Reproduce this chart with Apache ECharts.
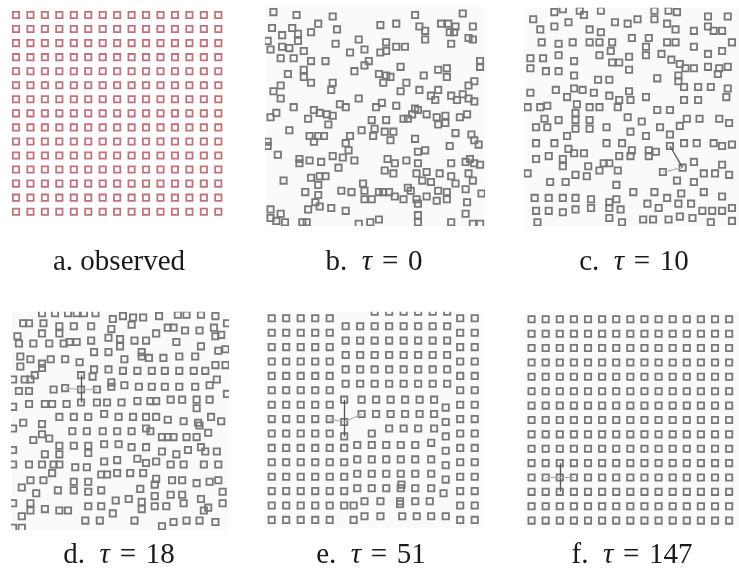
<!DOCTYPE html>
<html>
<head>
<meta charset="utf-8">
<script src="https://cdn.jsdelivr.net/npm/echarts@6/dist/echarts.min.js"></script>
<style>
  html, body { margin: 0; padding: 0; background: #ffffff; }
  #chart { width: 739px; height: 575px; }
</style>
</head>
<body>
<div id="chart"></div>
<script>
// Lattice indices (15 x 15 sites), in lattice units
const latticeIndex = [0, 1, 2, 3, 4, 5, 6, 7, 8, 9, 10, 11, 12, 13, 14];

// Sample positions at tau = 0 (lattice units, y downward)
const tau0Points = [
  [0.1,-0.2],[1.7,0],[4.2,0.1],[9.9,0],[13.2,-0.1],
  [3.2,0.6],[0,0.9],[1.4,0.9],[7.5,0.7],[8.6,0.6],[10.2,0.8],[11.7,0.6],[12.2,0.6],[12.7,0.8],[13.9,0.8],[4.5,1.0],
  [0.7,1.4],[1.8,1.3],[2.7,1.2],[10.6,1.1],[12.3,1.2],[12.6,1.2],[13.6,1.6],[13.9,1.7],[-0.3,1.8],[1.8,1.8],[10.6,1.7],[6.0,1.7],
  [-0.1,2.4],[0.7,2.2],[1.2,2.3],[2.2,2.5],[4.4,2.0],[5.4,2.6],[6.4,2.4],[7.9,1.9],[8.6,2.2],[9.2,2.2],[7.5,2.6],[7.9,2.5],[12.4,2.0],
  [0.6,3.0],[1.5,3.0],[2.7,3.2],[3.7,3.2],[6.7,3.2],[6.4,3.5],[14.4,3.2],[14.4,3.6],[8.9,3.6],
  [1.1,4.1],[2.2,3.8],[2.2,4.3],[5.7,3.9],[7.4,4.1],[7.9,4.2],[8.2,4.3],[11.5,3.8],[12.1,3.7],[10.5,4.2],[12.1,4.3],[4.2,4.7],[2.7,4.7],[4.1,5.2],[14.0,4.6],
  [0.6,4.9],[0.1,5.3],[0.6,5.8],[7.7,4.7],[9.3,4.7],[13.6,4.9],[8.9,5.3],[10.2,5.2],[11.5,5.2],[11.0,5.6],[11.3,5.9],[12.4,5.6],[12.8,5.9],[13.2,5.5],[13.6,5.8],[14.0,6.0],[6.0,5.8],[4.7,6.2],[5.1,6.4],
  [1.5,6.4],[2.9,6.6],[3.3,6.8],[3.8,6.9],[4.2,7.0],[-0.1,7.1],[0.3,6.8],[2.5,7.2],[7.2,6.4],[7.6,6.1],[8.6,6.3],[9.9,6.5],[10.1,6.6],[9.7,6.9],[9.1,7.2],[9.4,7.2],[10.7,6.9],[11.4,7.1],[12.0,7.0],[13.0,7.1],[13.5,6.9],[6.9,7.3],[7.9,7.3],[3.9,7.6],[11.5,7.6],[12.0,7.5],
  [1.2,8.0],[2.6,8.4],[2.9,8.8],[3.2,8.4],[3.6,8.4],[5.4,8.4],[6.2,8.0],[7.1,7.9],[7.8,8.1],[8.4,8.1],[7.0,8.4],[8.2,8.7],[9.9,8.6],[12.7,8.2],[13.8,8.3],[14.0,8.7],[14.3,9.0],[-0.3,8.8],[-0.3,9.1],[5.1,8.9],[12.3,9.1],[10.1,9.5],[10.6,9.4],[5.3,9.4],
  [0.4,9.7],[1.9,10.0],[2.6,10.1],[3.4,10.2],[4.2,9.8],[4.9,9.9],[5.7,10.1],[8.0,10.0],[8.5,10.3],[9.3,10.1],[10.1,10.3],[12.4,10.3],[13.4,10.2],[13.7,10.0],[14.0,10.3],[14.4,10.4],[1.9,10.3],[4.6,10.6],
  [7.8,10.8],[8.4,11.0],[10.0,11.0],[10.7,10.9],[11.6,11.0],[13.6,11.0],[0.8,11.5],[2.7,11.3],[3.3,11.2],[3.7,11.2],[6.3,11.7],[10.4,11.5],[11.0,11.6],[12.4,11.2],[12.7,11.7],[13.9,11.5],[3.2,11.8],[9.4,12.0],
  [2.3,12.3],[3.2,12.5],[4.8,12.2],[5.5,12.3],[6.4,12.2],[6.4,12.8],[6.9,12.8],[7.4,12.3],[7.7,12.3],[8.1,12.3],[8.5,12.6],[9.1,12.8],[9.6,12.2],[10.0,12.8],[10.7,12.6],[11.5,12.2],[12.1,12.3],[12.1,12.8],[11.4,12.9],[13.4,12.1],[14.5,12.4],[13.5,13.0],[10.1,13.1],[3.0,13.0],
  [2.5,13.5],[3.3,13.3],[4.1,13.4],[5.1,13.6],[-0.1,13.5],[0.6,13.8],[-0.1,14.1],[0.3,14.3],[0.9,14.4],[2.1,14.4],[2.4,14.4],[6.0,14.5],[6.8,14.4],[7.4,14.2],[10.1,13.9],[10.1,14.4],[12.4,14.4],[13.4,13.8],[13.9,14.5],[14.4,14.5]
];

// Sample positions at tau = 10
const tau10Points = [
  [1.6,-0.2],[2.2,-0.4],[3.4,-0.3],[3.7,0.0],[4.9,-0.3],[8.7,-0.3],[9.7,-0.3],[10.3,-0.2],[0.1,0.3],[12.5,0.1],[13.9,0.1],
  [0.6,1.0],[1.6,0.8],[2.6,0.5],[4.1,1.0],[4.9,1.2],[5.9,0.5],[6.8,0.6],[7.5,0.3],[8.7,0.3],[9.6,0.6],[10.2,1.0],[11.5,1.1],[12.5,0.8],[12.9,1.1],[13.5,1.1],
  [0.7,1.9],[1.9,2.0],[2.9,1.9],[4.1,1.9],[4.8,1.9],[5.7,1.9],[7.1,1.6],[8.3,1.6],[8.1,2.2],[9.6,1.9],[10.2,1.9],[11.5,2.2],[12.5,2.7],[13.5,2.5],[14.2,1.9],[5.6,2.5],
  [-0.1,3.0],[0.8,3.0],[1.9,2.8],[3.0,3.2],[-0.1,3.7],[1.0,3.9],[1.9,3.9],[4.8,2.8],[5.7,3.3],[6.2,3.3],[6.9,2.9],[6.9,3.8],[8.1,2.8],[9.2,2.7],[9.9,3.1],[10.5,3.4],[10.9,3.7],[11.5,3.7],[12.5,3.6],[13.3,3.7],[13.9,3.6],[3.0,4.2],[10.4,4.2],[13.2,4.1],
  [4.7,4.5],[5.5,4.5],[8.9,4.4],[10.4,4.6],[-0.1,5.4],[1.7,5.2],[3.0,5.1],[3.6,5.2],[4.4,5.4],[2.5,5.7],[5.5,5.6],[6.9,5.3],[10.8,5.0],[11.8,5.0],[12.7,5.0],[13.9,5.1],[6.2,5.9],[8.1,5.7],[7.0,5.9],
  [-0.3,6.4],[0.6,6.4],[1.1,6.3],[3.2,6.2],[4.1,6.4],[4.8,6.4],[6.1,6.4],[8.9,6.6],[9.8,6.6],[10.8,5.9],[11.8,5.9],[13.8,5.7],
  [0.3,7.8],[0.9,7.2],[1.1,7.8],[1.9,7.3],[3.1,6.8],[3.1,7.3],[3.1,7.9],[4.1,7.3],[4.1,7.9],[5.3,7.8],[6.8,7.1],[7.8,7.4],[7.0,8.1],[8.1,8.4],[9.1,7.8],[9.8,8.3],[10.5,7.7],[11.0,7.2],[11.9,7.2],[13.3,7.2],[14.0,7.5],
  [0.3,8.9],[1.6,8.9],[2.5,8.4],[2.6,9.3],[3.0,9.6],[3.7,9.6],[5.3,8.9],[6.4,8.9],[9.8,9.1],[10.8,8.9],[11.7,8.9],[12.9,8.9],[13.5,9.1],[14.2,9.0],[7.1,9.4],[8.3,9.4],[8.8,9.5],
  [0.3,10.0],[1.2,9.8],[2.2,10.0],[2.2,10.5],[4.0,10.5],[4.8,10.8],[5.1,10.3],[5.5,10.3],[6.1,10.8],[6.2,9.8],[7.0,9.8],[8.3,9.8],[11.5,10.2],[12.2,11.0],[13.0,11.0],[13.5,10.4],[14.0,11.1],[-0.3,11.0],[3.1,11.1],[3.9,11.2],[10.7,10.6],[9.3,10.9],
  [1.3,11.6],[2.4,11.6],[10.3,11.5],[11.5,11.6],[6.0,11.8],[7.2,12.3],[8.7,12.3],[9.6,12.7],[10.6,12.4],[12.2,12.3],[13.5,12.6],[0.2,12.7],[1.2,12.7],[2.2,12.7],[3.1,12.7],[4.2,12.8],[5.5,13.0],[6.0,12.8],
  [8.2,13.1],[9.0,13.4],[10.4,13.1],[11.3,13.1],[12.1,13.6],[12.8,13.6],[13.5,13.6],[14.2,13.4],[0.3,13.6],[1.2,13.6],[2.2,13.7],[3.1,13.5],[4.2,13.4],[5.5,13.4],[6.3,13.5],[5.5,14.1],[6.4,14.4],[7.9,14.2],[8.6,14.2],[9.7,14.2],[10.5,14.0],[11.4,14.1],[0.4,14.4],[12.7,14.4],[14.2,14.3]
];

// Sample positions at tau = 18
const tau18Points = [
  [1.8,-0.4],[2.7,-0.4],[3.6,-0.4],[4.2,-0.4],[4.7,-0.4],[5.5,-0.4],[6.7,0.0],[7.4,-0.2],[8.1,-0.1],[8.8,-0.1],[9.9,-0.2],[11.2,-0.3],[11.8,-0.3],[12.8,-0.3],[13.8,-0.2],
  [0.5,0.3],[0.9,0.3],[1.9,0.3],[3.0,0.5],[4.0,0.5],[5.2,0.5],[6.6,0.7],[8.0,0.4],[10.5,0.6],[10.9,0.6],[11.7,0.8],[12.7,0.8],[13.7,0.6],[14.6,0.3],
  [0.1,1.2],[1.8,1.0],[3.0,1.0],[9.7,1.0],[13.8,1.2],[14.2,1.1],
  [0.2,1.7],[1.2,1.7],[2.3,1.7],[3.3,1.7],[3.7,1.6],[4.2,1.6],[5.2,1.5],[6.4,1.3],[7.2,1.4],[7.2,1.9],[8.2,1.5],[9.0,1.5],[11.1,1.6],[12.8,1.9],[14.0,2.2],[14.5,2.1],[5.4,2.3],[6.4,2.3],[8.7,2.3],[8.7,2.6],
  [0.3,2.6],[1.0,2.8],[1.8,3.1],[2.4,2.8],[3.4,2.8],[4.4,3.0],[0.3,3.3],[1.8,3.4],[1.3,3.9],[1.0,4.2],[5.4,3.5],[5.3,4.0],[6.4,3.5],[7.5,2.8],[9.2,2.7],[10.2,2.7],[11.3,2.6],[12.4,2.6],[13.8,3.2],[14.5,3.2],
  [7.4,3.6],[8.4,3.6],[9.4,3.6],[10.3,3.6],[11.3,3.6],[12.3,3.6],[13.1,3.6],
  [-0.2,4.2],[0.6,4.2],[4.5,3.9],[4.5,4.9],[3.4,4.8],[2.6,4.9],[0.2,5.0],[0.9,5.0],[5.6,4.9],[6.6,4.4],[6.6,4.7],[7.5,4.6],[8.5,4.7],[9.4,4.7],[10.3,4.7],[11.3,4.7],[12.4,4.7],[13.4,4.6],[13.9,4.2],[14.6,5.2],
  [-0.2,6.1],[0.9,5.9],[2.0,5.9],[2.5,5.9],[3.5,5.9],[4.5,5.8],[5.6,5.8],[6.3,5.8],[7.3,5.8],[8.4,5.7],[9.3,5.7],[9.7,5.7],[10.7,5.6],[11.5,5.6],[12.5,5.6],[12.5,6.2],[13.4,5.6],
  [3.0,6.8],[4.0,6.8],[5.0,6.8],[6.1,6.6],[7.1,6.8],[8.1,6.8],[9.0,6.8],[9.7,6.8],[10.5,7.0],[11.6,7.1],[12.6,7.2],[13.5,6.8],[14.2,7.1],[-0.2,7.6],[0.5,7.2],[1.8,7.3],[3.9,7.8],[4.9,7.8],[6.0,7.8],[7.0,7.8],[8.0,7.8],[9.0,7.6],[9.3,7.8],[12.7,7.4],[13.3,7.9],
  [1.8,8.0],[1.2,8.4],[2.3,8.3],[3.0,8.8],[4.0,8.8],[5.0,8.8],[6.1,8.7],[7.1,8.7],[8.0,8.9],[9.0,8.9],[10.1,8.2],[10.5,8.2],[10.9,8.2],[11.8,8.2],[12.5,8.2],[-0.2,9.1],[2.0,9.4],[3.0,9.4],[5.0,9.3],[10.1,9.2],[11.1,9.4],[11.9,9.1],[12.8,8.9],[13.1,9.2],[13.9,9.2],
  [-0.2,10.1],[0.9,10.1],[1.8,10.1],[2.6,10.1],[3.0,10.1],[4.1,10.3],[4.9,10.3],[6.1,9.9],[7.0,9.8],[8.4,9.7],[9.0,10.0],[9.7,9.9],[10.7,10.1],[11.6,10.1],[13.0,10.1],[14.0,10.1],[2.5,10.7],[5.9,10.8],[6.3,10.8],[7.0,10.7],[7.9,10.7],[8.8,10.7],[9.7,11.1],[9.6,11.5],
  [1.0,11.2],[1.9,11.2],[4.0,11.3],[5.0,11.3],[10.8,11.2],[11.5,11.2],[12.5,11.4],[13.4,11.3],[14.0,11.2],[0.4,11.7],[1.4,12.1],[2.9,11.9],[4.0,11.9],[5.0,12.0],[5.9,11.9],[6.9,12.6],[7.8,12.5],[8.6,11.8],[10.7,12.2],[11.5,12.2],[12.8,12.5],[14.3,12.0],
  [-0.2,12.8],[1.0,12.8],[1.0,13.3],[2.0,13.2],[3.0,13.3],[3.6,13.3],[5.0,13.0],[5.9,13.0],[6.7,13.5],[8.7,12.7],[8.7,13.2],[9.6,12.3],[9.6,13.0],[10.4,13.0],[11.6,12.8],[13.0,13.3],[13.3,13.1],[14.3,12.8],[0.4,13.7],[4.8,14.0],[5.8,14.0],[8.2,14.0],[10.1,14.4],[10.9,14.1],[11.8,14.0],[12.7,14.0],[13.8,14.1],[-0.2,14.5],[0.4,14.5]
];

// Sample positions at tau = 51, listed row by row: [y, [x, ...]]
const tau51Rows = [
  [-0.45, [7.1, 8.1, 9.1, 10.1, 11.1, 12.1]],
  [0,    [0, 1, 2, 3, 4, 13, 14]],
  [0.55, [5.1, 6.1, 7.1, 8.1, 9.1, 10.1, 11.1, 12.1]],
  [1,    [0, 1, 2, 3, 4, 13, 14]],
  [1.55, [5.1, 6.1, 7.1, 8.1, 9.1, 10.1, 11.1, 12.1]],
  [2,    [0, 1, 2, 3, 4, 13, 14]],
  [2.55, [5.1, 6.1, 7.1, 8.1, 9.1, 10.1, 11.1, 12.1]],
  [3,    [0, 1, 2, 3, 4, 13, 14]],
  [3.55, [5.1, 6.1, 7.1, 8.1, 9.1, 10.1, 11.1, 12.1]],
  [4,    [0, 1, 2, 3, 4, 13, 14]],
  [4.55, [5.1, 6.1, 7.1, 8.1, 9.1, 10.1, 11.1, 12.1]],
  [5,    [0, 1, 2, 3, 4, 13, 14]],
  [5.65, [5.0, 6.2, 7.2, 8.2, 9.2, 10.2, 11.2]],
  [6,    [0, 1, 2, 3, 4, 13, 14]],
  [6.2,  [12.0]],
  [6.65, [6.2, 7.2, 8.2, 9.2, 10.2, 11.2]],
  [7,    [0, 1, 2, 3, 4, 13, 14]],
  [7.2,  [5.0, 12.0]],
  [7.65, [8.1, 9.1, 10.1, 11.2]],
  [8,    [0, 1, 2, 3, 4, 6.9, 13, 14]],
  [8.2,  [5.0, 12.0]],
  [8.65, [11.0]],
  [8.8,  [5.9, 6.9, 7.9, 8.9, 9.9]],
  [9,    [0, 1, 2, 3, 4, 5, 13, 14]],
  [9.2,  [12.0]],
  [9.8,  [5.9, 6.9, 7.9, 8.9, 9.9, 11.0]],
  [10,   [0, 1, 2, 3, 4, 5, 13, 14]],
  [10.2, [12.0]],
  [10.8, [5.9, 6.9, 7.9, 8.9, 9.9, 11.0]],
  [11,   [0, 1, 2, 3, 4, 5, 13, 14]],
  [11.2, [12.0]],
  [11.55,[8.95]],
  [11.8, [5.9, 6.9, 7.9, 8.9, 9.9, 11.0]],
  [12,   [0, 1, 2, 3, 4, 5, 13, 14]],
  [12.15,[11.85]],
  [12.7, [6.4, 7.5, 8.85, 9.9, 10.9]],
  [12.9, [8.85]],
  [13,   [0, 1, 2, 3, 4, 5, 5.65, 13, 14]],
  [13.75,[6.4, 7.5, 9.0, 10.0, 11.0, 12.0]],
  [14,   [0, 1, 2, 3, 4, 5.65, 13, 14]]
];

// Neighbour links drawn around one tracked site: [from, to, strong?]
const tau10Links = [[[10.7,10.6],[9.8,9.1],true],[[10.7,10.6],[9.3,10.9],false]];
const tau18Links = [[[4.5,4.9],[4.5,3.9],true],[[4.5,4.9],[4.5,5.8],true],[[4.5,4.9],[3.4,4.8],false],[[4.5,4.9],[5.6,4.9],false]];
const tau51Links = [[[5.0,7.2],[5.0,5.65],true],[[5.0,7.2],[5.0,8.2],true],[[5.0,7.2],[6.2,6.65],false],[[5.0,7.2],[4.0,7.0],false]];
const tau147Links = [[[2,11],[2,10],true],[[2,11],[2,12],true],[[2,11],[1,11],false],[[2,11],[3,11],false]];

// Captions: [panel letter, word, tau value]
const captions = [
  ['a.', 'observed', null],
  ['b.', null, '0'],
  ['c.', null, '10'],
  ['d.', null, '18'],
  ['e.', null, '51'],
  ['f.', null, '147']
];

const latticePoints = latticeIndex.flatMap(r => latticeIndex.map(c => [c, r]));
const tau51Points = tau51Rows.flatMap(([y, xs]) => xs.map(x => [x, y]));

const RED = '#c0737c';
const GRAY = '#787878';
const PANEL_BG = '#fafafa';

// Layout of each panel: pixel origin of site (0,0), pixel spacing, visible range in lattice units
const panels = [
  { points: latticePoints, color: RED,  links: [],          bg: null,     o: [16, 15],      s: [14.45, 14.05], xr: [-0.55, 14.55], yr: [-0.55, 14.55], cap: [119, 262] },
  { points: tau0Points,    color: GRAY, links: [],          bg: PANEL_BG, o: [272, 15],     s: [14.45, 14.4],  xr: [-0.45, 14.65], yr: [-0.55, 14.65], cap: [374, 262] },
  { points: tau10Points,   color: GRAY, links: tau10Links,  bg: PANEL_BG, o: [532, 15],     s: [14.45, 14.4],  xr: [-0.5, 14.7],   yr: [-0.5, 14.65],  cap: [634, 262] },
  { points: tau18Points,   color: GRAY, links: tau18Links,  bg: PANEL_BG, o: [16, 319],     s: [14.45, 14.4],  xr: [-0.3, 14.65],  yr: [-0.5, 14.65],  cap: [119, 555] },
  { points: tau51Points,   color: GRAY, links: tau51Links,  bg: PANEL_BG, o: [271.7, 318.3], s: [14.5, 14.4],  xr: [-0.5, 14.6],   yr: [-0.45, 14.6],  cap: [371, 555] },
  { points: latticePoints, color: GRAY, links: tau147Links, bg: PANEL_BG, o: [531.7, 319.3], s: [14.4, 14.38], xr: [-0.5, 14.7],   yr: [-0.5, 14.55],  cap: [632, 555] }
];

const option = {
  animation: false,
  backgroundColor: '#ffffff',
  grid: [], xAxis: [], yAxis: [], series: [], graphic: []
};

const FONT = 'Liberation Serif';
const richStyle = {
  n: { fontFamily: FONT, fontSize: 29, fill: '#1a1a1a' },
  i: { fontFamily: FONT, fontSize: 29, fontStyle: 'italic', fill: '#1a1a1a' }
};

const BOX = 6.3;     // square side
const STROKE = 1.8;  // outline width

panels.forEach((p, i) => {
  const left = p.o[0] + p.xr[0] * p.s[0];
  const top = p.o[1] + p.yr[0] * p.s[1];
  option.grid.push({
    left: left, top: top,
    width: (p.xr[1] - p.xr[0]) * p.s[0], height: (p.yr[1] - p.yr[0]) * p.s[1],
    show: !!p.bg, backgroundColor: p.bg || 'transparent', borderWidth: 0
  });
  option.xAxis.push({ type: 'value', gridIndex: i, min: p.xr[0], max: p.xr[1], show: false });
  option.yAxis.push({ type: 'value', gridIndex: i, min: p.yr[0], max: p.yr[1], inverse: true, show: false });
  option.series.push({
    type: 'custom', xAxisIndex: i, yAxisIndex: i, data: p.points, clip: true, silent: true,
    encode: { x: 0, y: 1 },
    renderItem: (params, api) => {
      const c = api.coord([api.value(0), api.value(1)]);
      return {
        type: 'rect',
        shape: { x: c[0] - BOX / 2, y: c[1] - BOX / 2, width: BOX, height: BOX },
        style: { fill: 'none', stroke: p.color, lineWidth: STROKE }
      };
    }
  });
  if (p.links.length) {
    [true, false].forEach(strong => {
      option.series.push({
        type: 'lines', coordinateSystem: 'cartesian2d', xAxisIndex: i, yAxisIndex: i, silent: true,
        data: p.links.filter(l => l[2] === strong).map(l => ({ coords: [l[0], l[1]] })),
        lineStyle: { color: strong ? '#555555' : '#b0b0b0', width: strong ? 1.3 : 1.1, opacity: 1 },
        z: 3
      });
    });
  }
  const c = captions[i];
  const text = c[1]
    ? '{n|' + c[0] + ' ' + c[1] + '}'
    : '{n|' + c[0] + '  }{i|τ}{n|\u2004=\u2004' + c[2] + '}';
  option.graphic.push({
    type: 'text', x: p.cap[0], y: p.cap[1], silent: true,
    style: { text: text, rich: richStyle, align: 'center', verticalAlign: 'middle', textAlign: 'center', textVerticalAlign: 'middle' }
  });
});

const chart = echarts.init(document.getElementById('chart'), null, { renderer: 'canvas' });
chart.setOption(option);
</script>
</body>
</html>
